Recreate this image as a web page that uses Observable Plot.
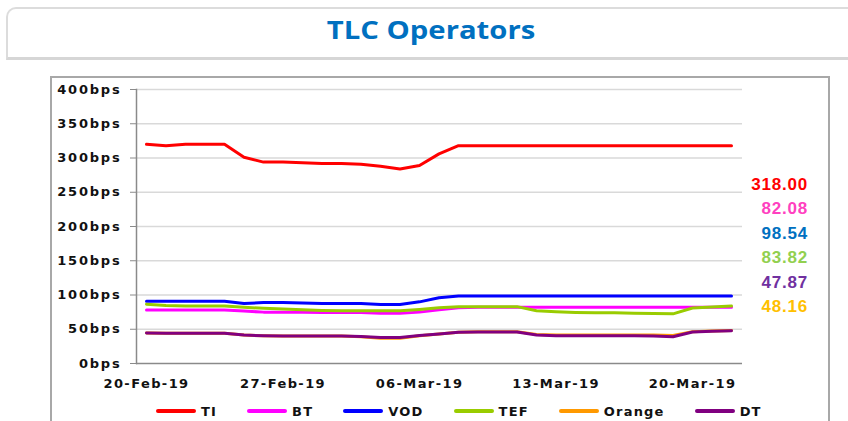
<!DOCTYPE html>
<html>
<head>
<meta charset="utf-8">
<script src="https://cdn.jsdelivr.net/npm/d3@7"></script>
<script src="https://cdn.jsdelivr.net/npm/@observablehq/plot@0.6"></script>
<style>
  body { margin: 0; background: #fff; }
  #wrap { position: relative; width: 848px; height: 421px; overflow: hidden; background: #fff; }
  #titlebox { position: absolute; left: 6px; top: 7px; width: 880px; height: 53px; box-sizing: border-box;
    border: 2px solid #dcdcdc; border-bottom: 3px solid #d6d6d6; border-right: none; border-radius: 10px 0 0 0; background: #fff; }
  #title { position: absolute; left: 0; top: 14px; width: 862px; text-align: center;
    font-family: "Open Sans", sans-serif; font-weight: 700; font-size: 25px; line-height: 30px; color: #0070C0; }
  #title span { display: inline-block; transform: scaleX(1.17); transform-origin: center; }
  #chart { position: absolute; left: 0; top: 70px; }
  #frame { position: absolute; left: 50px; top: 76px; width: 780px; height: 380px; box-sizing: border-box;
    border: 2px solid #a8a8a8; pointer-events: none; }
  #endlabels { position: absolute; left: 700px; top: 173px; width: 108px; text-align: right;
    font-family: "Liberation Sans", Arial, sans-serif; font-weight: 700; font-size: 17px; line-height: 24.4px; letter-spacing: 0.8px; }
  #legend { position: absolute; left: 156px; top: 401px; height: 20px; display: flex; align-items: center; gap: 30px;
    font-family: "DejaVu Sans", sans-serif; font-weight: 700; font-size: 13px; letter-spacing: 1.2px; color: #111; }
  #legend .item { display: flex; align-items: center; }
  #legend .sw { width: 40px; height: 4px; margin-right: 5px; border-radius: 2px; }
</style>
</head>
<body>
<div id="wrap">
  <div id="titlebox"></div>
  <div id="title"><span>TLC Operators</span></div>
  <div id="chart"></div>
  <div id="frame"></div>
  <div id="endlabels"></div>
  <div id="legend"></div>
</div>
<script>
// ---- data ----
const dates = [
  "2019-02-20","2019-02-21","2019-02-22","2019-02-23","2019-02-24","2019-02-25","2019-02-26",
  "2019-02-27","2019-02-28","2019-03-01","2019-03-02","2019-03-03","2019-03-04","2019-03-05",
  "2019-03-06","2019-03-07","2019-03-08","2019-03-09","2019-03-10","2019-03-11","2019-03-12",
  "2019-03-13","2019-03-14","2019-03-15","2019-03-16","2019-03-17","2019-03-18","2019-03-19",
  "2019-03-20","2019-03-21","2019-03-22"
];
const series = ["TI", "BT", "VOD", "TEF", "Orange", "DT"];
const lineColors = ["#FF0000", "#FF00FF", "#0000FF", "#99CC00", "#FF9900", "#800080"];

const TI = [320,318,320,320,320,301,294,294,293,292,292,291,288,284,289,306,318,
            318,318,318,318,318,318,318,318,318,318,318,318,318,318];
const BT = [78,78,78,78,78,76.5,75,75,75,74.5,74.5,74.5,73.5,73.5,75,78.5,81.5,
            82.08,82.08,82.08,82.08,82.08,82.08,82.08,82.08,82.08,82.08,82.08,82.08,82.08,82.08];
const VOD = [91,91,91,91,91,87.5,89,89,88.5,87.5,87.5,87.5,86,86,90,96,98.5,
             98.54,98.54,98.54,98.54,98.54,98.54,98.54,98.54,98.54,98.54,98.54,98.54,98.54,98.54];
const TEF = [86.5,84.5,84,84,84,82,80.5,79.5,78.5,77.5,77,77,77,77,79,81.5,83,
             83,83,83,77,75.5,74.5,74,74,73.5,73,72.5,81,82.5,83.82];
const ORANGE = [44.5,44,44,44,44,41.5,40.5,40,40,40,40,39,37,37,40.5,43,45.5,
                46.5,46.5,46.5,42.5,41.5,41.5,41.5,41.5,41.5,41.5,41,46.5,47.5,48.16];
const DT = [44.5,44,44,44,44,41.5,40.5,40,40,40,40,39.5,38,38,41,43,45.5,
            46,46,46,41.5,40.5,40.5,40.5,40.5,40.5,40,39,46,47,47.87];

const yTicks = [0, 50, 100, 150, 200, 250, 300, 350, 400];
const xTickDates = ["2019-02-20", "2019-02-27", "2019-03-06", "2019-03-13", "2019-03-20"];

const endLabels = ["318.00", "82.08", "98.54", "83.82", "47.87", "48.16"];
const endLabelColors = ["#FF0000", "#FF40C0", "#0070C0", "#92D050", "#7030A0", "#FFC000"];

// ---- build ----
const parse = d3.utcParse("%Y-%m-%d");
const valuesBySeries = {TI: TI, BT: BT, VOD: VOD, TEF: TEF, Orange: ORANGE, DT: DT};
const rows = series.flatMap(s => dates.map((d, i) => ({series: s, date: parse(d), value: valuesBySeries[s][i]})));

const chart = Plot.plot({
  width: 848,
  height: 330,
  marginLeft: 136,
  marginRight: 106,
  marginTop: 19,
  marginBottom: 37,
  style: {fontFamily: "DejaVu Sans, sans-serif", background: "transparent", color: "#111"},
  x: {type: "utc", domain: [parse(dates[0]), parse(dates[dates.length - 1])], insetLeft: 10, insetRight: 11},
  y: {domain: [0, 400]},
  color: {domain: series, range: lineColors},
  marks: [
    Plot.ruleY(yTicks.filter(d => d > 0), {stroke: "#d9d9d9", strokeWidth: 1.3}),
    Plot.ruleY([0], {stroke: "#8a8a8a", strokeWidth: 1.5}),
    Plot.frame({anchor: "left", stroke: "#8a8a8a", strokeWidth: 1.5}),
    Plot.axisY({ticks: yTicks, tickSize: 6, tickPadding: 9, tickFormat: d => d + "bps",
      fontSize: 13, fontWeight: "bold", stroke: "#8a8a8a", fill: "#111", label: null}),
    Plot.axisX({ticks: xTickDates.map(parse), tickSize: 0, tickPadding: 15,
      tickFormat: d3.utcFormat("%d-%b-%y"), fontSize: 13, fontWeight: "bold", fill: "#111", label: null}),
    Plot.line(rows, {x: "date", y: "value", z: "series", stroke: "series", strokeWidth: 3, strokeLinejoin: "round"})
  ]
});
document.getElementById("chart").appendChild(chart);
d3.select(chart).selectAll('g[aria-label="y-axis tick label"]').style("letter-spacing", "1.8px");
d3.select(chart).selectAll('g[aria-label="x-axis tick label"]').style("letter-spacing", "1.4px");

// end labels
const el = d3.select("#endlabels");
endLabels.forEach((t, i) => el.append("div").style("color", endLabelColors[i]).text(t));

// legend
const lg = d3.select("#legend");
series.forEach((s, i) => {
  const it = lg.append("div").attr("class", "item");
  it.append("div").attr("class", "sw").style("background", lineColors[i]);
  it.append("span").text(s);
});
</script>
</body>
</html>
